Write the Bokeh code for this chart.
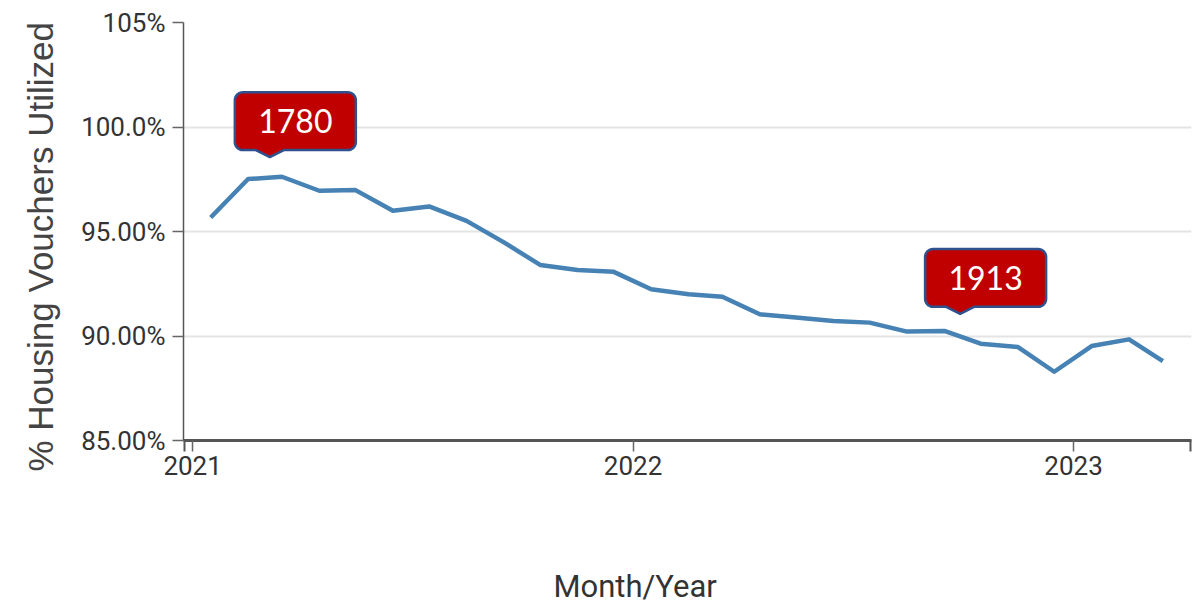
import math
import pandas as pd
from bokeh.plotting import figure
from bokeh.models import (FixedTicker, DatetimeTickFormatter, Title, Range1d,
                          LinearAxis, CustomJSTickFormatter)
from bokeh.core.properties import value
from bokeh.embed import file_html
from bokeh.resources import INLINE

# ---------------- data ----------------
MONTHS = [
    "2021-01-16", "2021-02-16", "2021-03-16", "2021-04-16", "2021-05-16", "2021-06-16",
    "2021-07-16", "2021-08-16", "2021-09-16", "2021-10-16", "2021-11-16", "2021-12-16",
    "2022-01-16", "2022-02-16", "2022-03-16", "2022-04-16", "2022-05-16", "2022-06-16",
    "2022-07-16", "2022-08-16", "2022-09-16", "2022-10-16", "2022-11-16", "2022-12-16",
    "2023-01-16", "2023-02-16", "2023-03-16",
]
UTILIZATION = [
    95.67, 97.51, 97.62, 96.95, 96.98, 95.99, 96.20, 95.51, 94.48, 93.40, 93.16, 93.07,
    92.24, 92.00, 91.88, 91.04, 90.88, 90.72, 90.64, 90.21, 90.24, 89.63, 89.47, 88.29,
    89.52, 89.84, 88.80,
]
Y_TICKS = [85, 90, 95, 100, 105]
Y_TICK_LABELS = ["85.00%", "90.00%", "95.00%", "100.0%", "105%"]
X_TICKS = ["2021-01-01", "2022-01-01", "2023-01-01"]

CALLOUT_TEXT = ["1780", "1913"]
CALLOUT_DATE = ["2021-03-06", "2022-09-29"]
CALLOUT_VALUE = [98.56, 91.06]

X_START = "2020-12-24 11:00"
X_END = "2023-04-08 18:00"
Y_START, Y_END = 85, 105


def ms(s):
    return pd.Timestamp(s).value / 1e6


# ---------------- layout ----------------
FRAME_W, FRAME_H = 1008, 419
LEFT, TOP = 183, 22
W, H = 1194, 604

x0, x1 = ms(X_START), ms(X_END)
px_per_ms = FRAME_W / (x1 - x0)
px_per_unit = FRAME_H / (Y_END - Y_START)

p = figure(
    width=W, height=H,
    x_axis_type="datetime",
    x_range=Range1d(x0, x1), y_range=Range1d(Y_START, Y_END),
    output_backend="svg", toolbar_location=None, tools="",
    min_border_left=LEFT, min_border_right=W - LEFT - FRAME_W, min_border_top=TOP,
    min_border_bottom=H - TOP - FRAME_H,
)
p.outline_line_color = None
p.background_fill_color = "white"
p.border_fill_color = "white"

# grid
p.xgrid.visible = False
p.ygrid.grid_line_color = "#e4e4e4"
p.ygrid.grid_line_width = 2

# y axis
p.yaxis.ticker = FixedTicker(ticks=Y_TICKS, minor_ticks=[])
p.yaxis.major_label_overrides = {t: l for t, l in zip(Y_TICKS, Y_TICK_LABELS)}
p.yaxis.axis_line_color = "#555555"
p.yaxis.axis_line_width = 1.5
p.yaxis.major_tick_line_color = "#666666"
p.yaxis.major_tick_line_width = 1.5
p.yaxis.major_tick_out = 11
p.yaxis.major_tick_in = 0
p.yaxis.major_label_standoff = 7

# x axis (outer ticks at both ends drawn as minor ticks)
p.xaxis.ticker = FixedTicker(ticks=[ms(t) for t in X_TICKS],
                             minor_ticks=[x0 + 0.6 / px_per_ms, x1 - 1.5 / px_per_ms])
p.xaxis.formatter = DatetimeTickFormatter(years="%Y", months="%Y", days="%Y",
                                          hours="%Y", minutes="%Y")
p.xaxis.axis_line_color = "#555555"
p.xaxis.axis_line_width = 3
p.xaxis.major_tick_line_color = "#666666"
p.xaxis.major_tick_line_width = 1.5
p.xaxis.major_tick_out = 11
p.xaxis.major_tick_in = 0
p.xaxis.minor_tick_line_color = "#555555"
p.xaxis.minor_tick_line_width = 2
p.xaxis.minor_tick_out = 11
p.xaxis.minor_tick_in = 0
p.xaxis.major_label_standoff = 4

for ax in (p.xaxis, p.yaxis):
    ax.major_label_text_font = "Roboto"
    ax.major_label_text_font_size = "26px"
    ax.major_label_text_color = "#333333"

# line
p.line(x=[ms(m) for m in MONTHS], y=UTILIZATION, line_color="#4682b4",
       line_width=4.5, line_join="round")

# callouts (pixel-shaped boxes anchored to a data point)
BOX_L, BOX_W, BOX_H, GAP, HALF, R = -35, 121, 58, 7, 14, 8


def callout_shape():
    left, right, bot, top = BOX_L, BOX_L + BOX_W, GAP, GAP + BOX_H
    pts = [(0, 0), (-HALF, bot)]

    def arc(cx, cy, a0, a1, n=8):
        return [(cx + R * math.cos(math.radians(a0 + (a1 - a0) * i / n)),
                 cy + R * math.sin(math.radians(a0 + (a1 - a0) * i / n))) for i in range(n + 1)]

    pts += arc(left + R, bot + R, 270, 180)
    pts += arc(left + R, top - R, 180, 90)
    pts += arc(right - R, top - R, 90, 0)
    pts += arc(right - R, bot + R, 0, -90)
    pts += [(HALF, bot)]
    return pts


shape = callout_shape()
for txt, d, v in zip(CALLOUT_TEXT, CALLOUT_DATE, CALLOUT_VALUE):
    tx = ms(d)
    xs = [tx + dx / px_per_ms for dx, dy in shape]
    ys = [v + dy / px_per_unit for dx, dy in shape]
    p.patch(xs, ys, fill_color="#C00000", line_color="#2F528F", line_width=2.5)
    cx = tx + (BOX_L + BOX_W / 2) / px_per_ms
    cy = v + (GAP + BOX_H / 2) / px_per_unit
    p.text(x=[cx], y=[cy], text=[txt], text_font=value("Lato"),
           text_font_size=value("32px"), text_color="white",
           text_align="center", text_baseline="middle")

# axis titles as side-panel titles (allow pixel offsets)
p.add_layout(Title(text="% Housing Vouchers Utilized", align="left", offset=-31,
                   vertical_align="top", standoff=34,
                   text_font="Liberation Sans", text_font_size="35px",
                   text_font_style="normal", text_color="#444444"), "left")

# blank spacer between the x axis and its title: one white tick at the far right
spacer = LinearAxis(ticker=FixedTicker(ticks=[x1 - 1.0 / px_per_ms]),
                    formatter=CustomJSTickFormatter(code="return ''"),
                    major_tick_out=88, major_tick_in=0,
                    minor_tick_out=0, minor_tick_in=0, axis_line_color=None,
                    major_tick_line_color="white", major_tick_line_width=1,
                    minor_tick_line_color=None, major_label_standoff=0)
p.add_layout(spacer, "below")
p.add_layout(Title(text="Month/Year", align="left", offset=370, standoff=0,
                   text_font="Roboto", text_font_size="31px",
                   text_font_style="normal", text_color="#333333"), "below")

open("out.html", "w").write(file_html(p, INLINE))
